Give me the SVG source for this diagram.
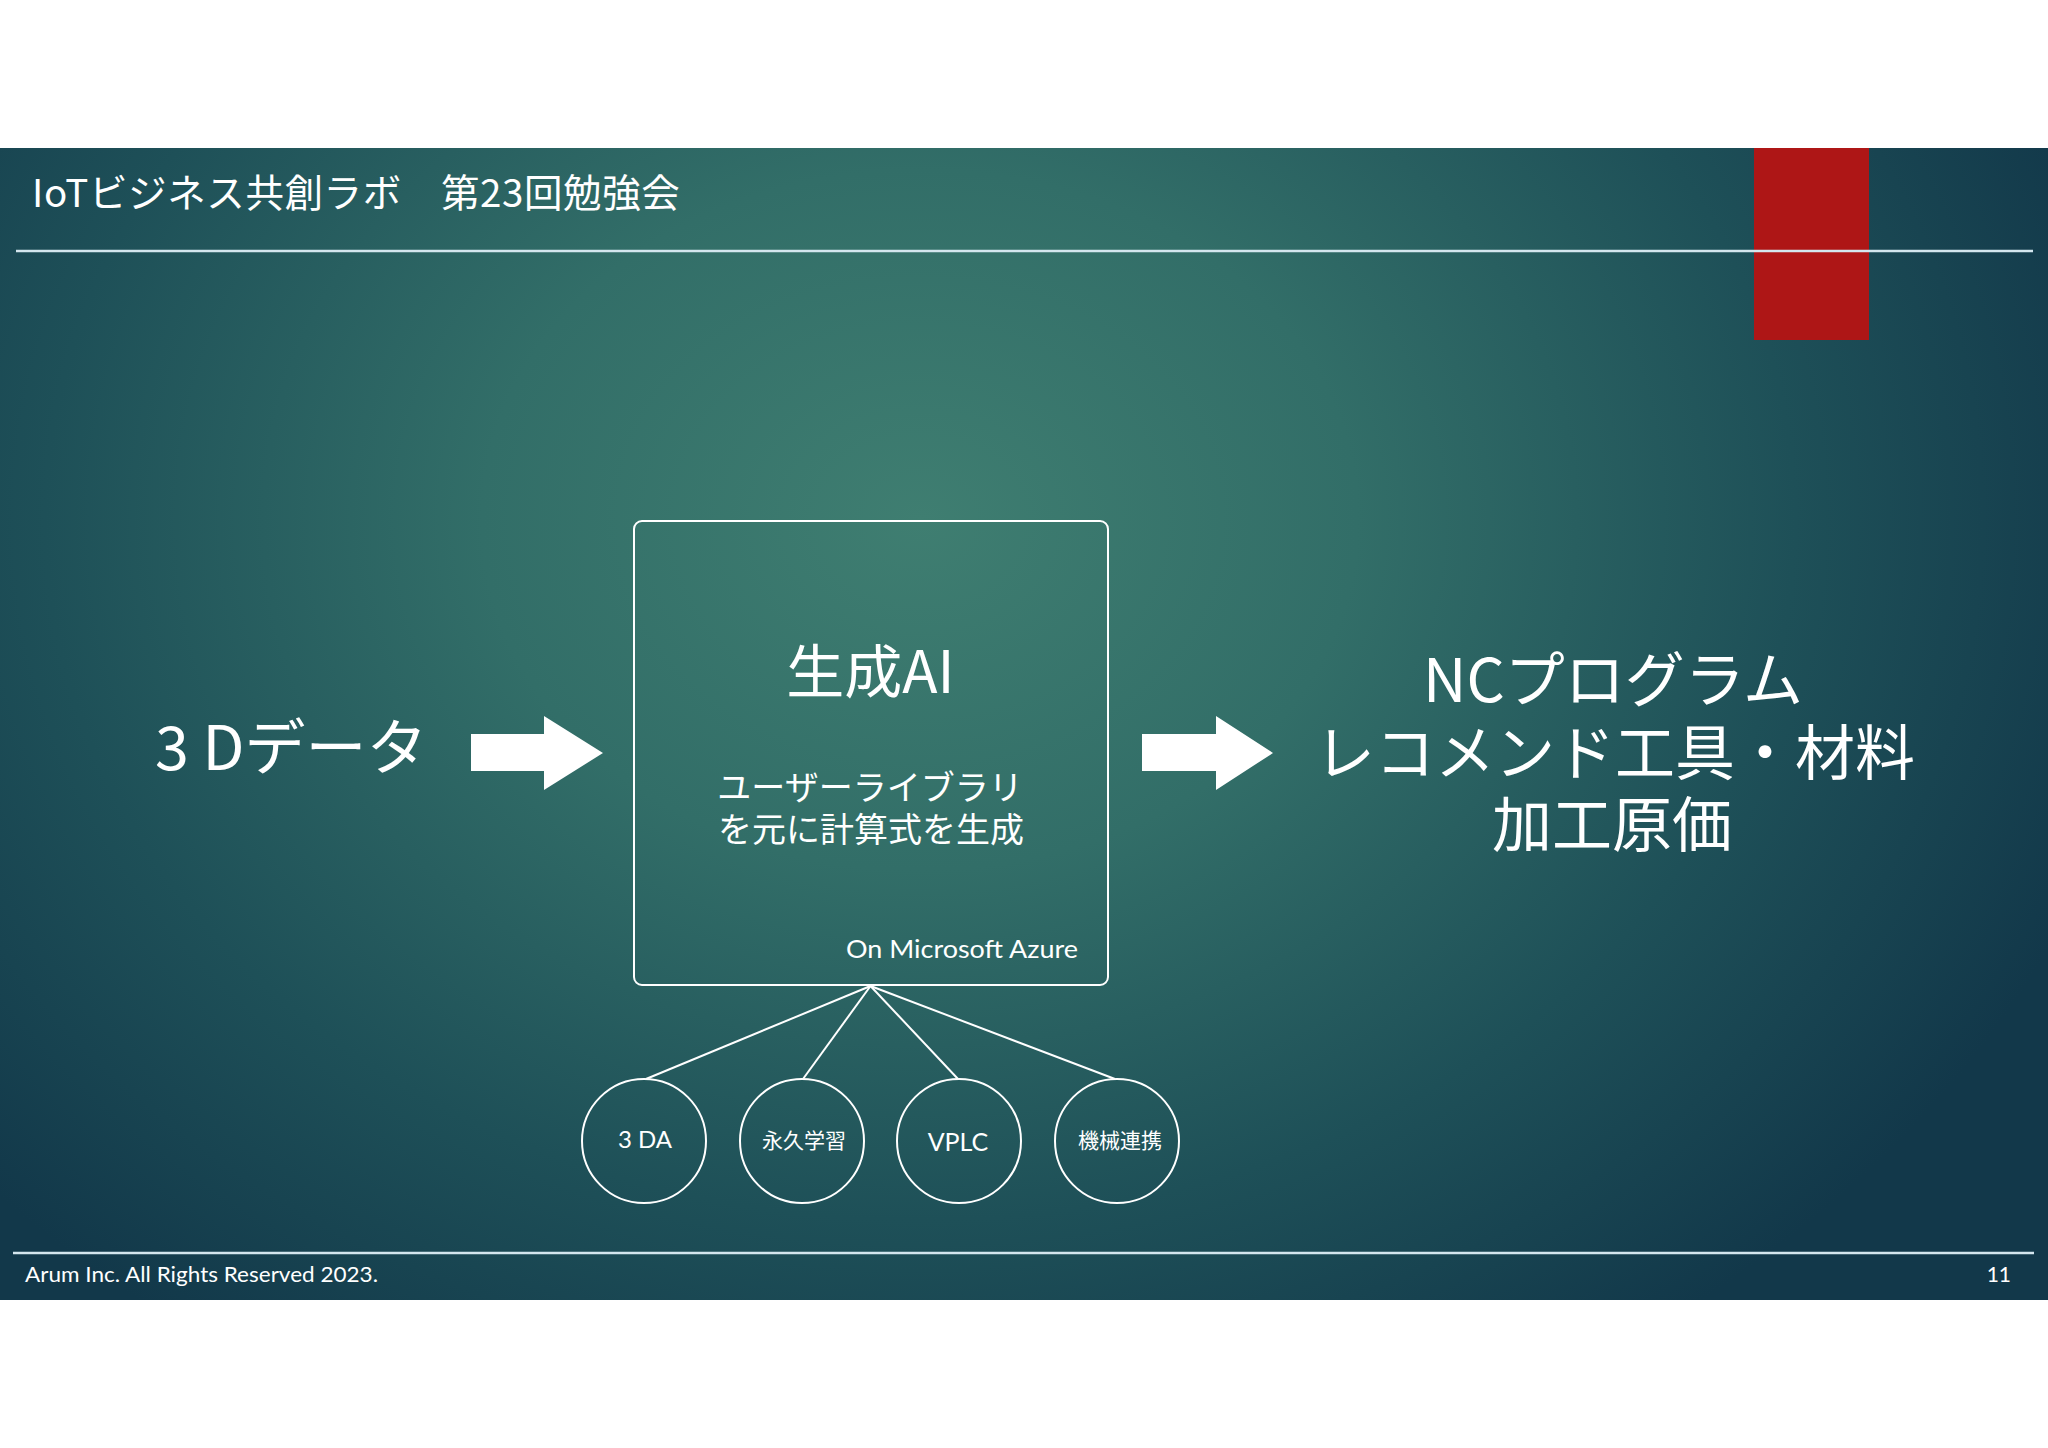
<svg xmlns="http://www.w3.org/2000/svg" width="2048" height="1448" viewBox="0 0 2048 1448">
  <defs>
    <radialGradient id="bg" gradientUnits="userSpaceOnUse" cx="920" cy="520" r="1250" gradientTransform="translate(920 520) scale(1 0.8) translate(-920 -520)">
      <stop offset="0" stop-color="#3f7e71"/>
      <stop offset="0.35" stop-color="#326e68"/>
      <stop offset="0.7" stop-color="#1e5058"/>
      <stop offset="1" stop-color="#12384a"/>
    </radialGradient>
    <style>
      .jp { font-family: "Noto Sans CJK JP", "Noto Sans", sans-serif; fill: #ffffff; }
      .lat { font-family: "Lato", "Noto Sans CJK JP", sans-serif; fill: #ffffff; }
      .edge { stroke: #ffffff; stroke-width: 2; fill: none; }
      .rule { stroke: #d4e6ee; stroke-width: 2.5; }
      .arrow { fill: #ffffff; }
    </style>
  </defs>

  <rect x="0" y="0" width="2048" height="1448" fill="#ffffff"/>
  <rect x="0" y="148" width="2048" height="1152" fill="url(#bg)"/>

  <g id="header">
    <rect x="1754" y="148" width="115" height="192" fill="#ae1616"/>
    <line class="rule" x1="16" y1="251" x2="2033" y2="251"/>
    <text class="jp" x="32" y="207" font-size="38.5" letter-spacing="0.6">IoTビジネス共創ラボ　第23回勉強会</text>
  </g>

  <g id="footer">
    <line class="rule" x1="13" y1="1253" x2="2034" y2="1253"/>
    <text class="lat" x="25" y="1282" font-size="21" textLength="353" lengthAdjust="spacingAndGlyphs">Arum Inc. All Rights Reserved 2023.</text>
    <text class="lat" x="2011" y="1282" font-size="21" text-anchor="end">11</text>
  </g>

  <g id="connectors">
    <polygon class="arrow" points="471,734 544,734 544,716 603,753 544,790 544,771 471,771"/>
    <polygon class="arrow" points="1142,734 1216,734 1216,716 1273,753 1216,790 1216,771 1142,771"/>
    <g class="edge">
      <line x1="870.5" y1="986" x2="646" y2="1079"/>
      <line x1="870.5" y1="986" x2="803" y2="1079"/>
      <line x1="870.5" y1="986" x2="958" y2="1079"/>
      <line x1="870.5" y1="986" x2="1115" y2="1079"/>
    </g>
  </g>

  <g id="node-3d-data">
    <text class="jp" x="155" y="770" font-size="61">3 Dデータ</text>
  </g>

  <g id="node-genai">
    <rect class="edge" x="634" y="521" width="474" height="464" rx="8"/>
    <text class="jp" x="870.5" y="693" font-size="58" text-anchor="middle">生成AI</text>
    <text class="jp" x="870" y="800" font-size="34" text-anchor="middle">ユーザーライブラリ</text>
    <text class="jp" x="871" y="842" font-size="34" text-anchor="middle">を元に計算式を生成</text>
    <text class="lat" x="846" y="958" font-size="25" textLength="232" lengthAdjust="spacingAndGlyphs">On Microsoft Azure</text>
  </g>

  <g id="node-output">
    <text class="jp" x="1613" y="702" font-size="60" text-anchor="middle">NCプログラム</text>
    <text class="jp" x="1615" y="775" font-size="60" text-anchor="middle">レコメンド工具・材料</text>
    <text class="jp" x="1612" y="847" font-size="60" text-anchor="middle">加工原価</text>
  </g>

  <g id="node-3da">
    <circle class="edge" cx="644" cy="1141" r="62"/>
    <text class="lat" x="645" y="1148" font-size="24" text-anchor="middle">3 DA</text>
  </g>
  <g id="node-eikyu">
    <circle class="edge" cx="802" cy="1141" r="62"/>
    <text class="jp" x="804" y="1148" font-size="21" text-anchor="middle">永久学習</text>
  </g>
  <g id="node-vplc">
    <circle class="edge" cx="959" cy="1141" r="62"/>
    <text class="lat" x="958" y="1151" font-size="25" text-anchor="middle">VPLC</text>
  </g>
  <g id="node-kikai">
    <circle class="edge" cx="1117" cy="1141" r="62"/>
    <text class="jp" x="1120" y="1148" font-size="21" text-anchor="middle">機械連携</text>
  </g>
</svg>
